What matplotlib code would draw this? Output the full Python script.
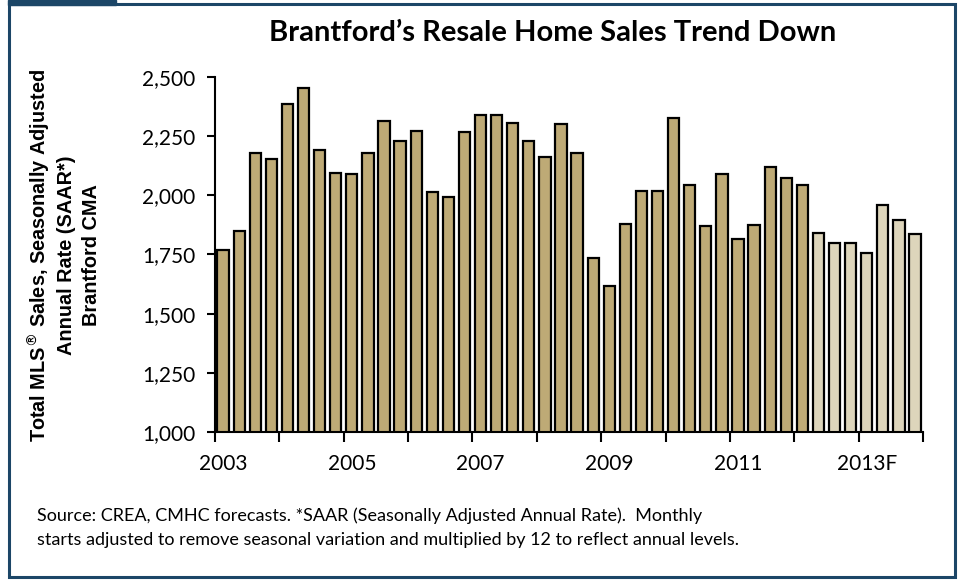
import matplotlib.pyplot as plt
from matplotlib.patches import Rectangle
from matplotlib.ticker import FuncFormatter

# quarterly MLS sales, SAAR, 2003Q1 - 2013Q4
actual = [1768, 1849, 2179, 2153, 2386, 2455, 2192, 2094,
          2090, 2179, 2313, 2228, 2272, 2013, 1992, 2268,
          2341, 2341, 2304, 2228, 2161, 2300, 2179, 1736,
          1616, 1879, 2017, 2017, 2325, 2044, 1870, 2089,
          1815, 1875, 2120, 2072, 2044]
forecast = [1839, 1799, 1799, 1758, 1959, 1896, 1838]
year_labels = ["2003", "2005", "2007", "2009", "2011", "2013F"]
yticks = [1000, 1250, 1500, 1750, 2000, 2250, 2500]

dark = "#BEAA76"
light = "#DDD5BB"
border = "#1C4667"
font = "Lato"

fig = plt.figure(figsize=(9.59, 5.81), dpi=100)
ax = fig.add_axes([0.2242, 0.2565, 0.7383, 0.611])

n_act = len(actual)
ax.bar(range(n_act), actual, width=0.7, color=dark, edgecolor="black", linewidth=1.6, zorder=2)
ax.bar(range(n_act, n_act + len(forecast)), forecast, width=0.7, color=light,
       edgecolor="black", linewidth=1.6, zorder=2)

n = n_act + len(forecast)
ax.set_xlim(-0.5, n - 0.5)
ax.set_ylim(1000, 2500)
ax.set_yticks(yticks)
ax.yaxis.set_major_formatter(FuncFormatter(lambda v, p: f"{int(v):,}"))
ax.set_xticks([i - 0.5 for i in range(0, n + 1, 4)])
ax.set_xticklabels([])
ax.set_xticks([i * 8 for i in range(len(year_labels))], minor=True)
ax.set_xticklabels(year_labels, minor=True)
ax.tick_params(axis="x", which="minor", length=0, pad=16, labelsize=15)
ax.tick_params(axis="x", which="major", length=7, width=1.5, direction="out")
ax.tick_params(axis="y", length=6, width=1.5, direction="out", labelsize=15, pad=8)
for lab in ax.get_xticklabels(minor=True) + ax.get_yticklabels():
    lab.set_fontfamily(font)

for s in ["top", "right"]:
    ax.spines[s].set_visible(False)
ax.spines["left"].set_linewidth(1.5)
ax.spines["bottom"].set_linewidth(1.5)

fig.text(0.5761, 0.943, "Brantford’s Resale Home Sales Trend Down", ha="center", va="center",
         fontsize=21, fontweight="bold", family=font)

fig.text(0.066, 0.5602, "Total MLS$^{®}$ Sales, Seasonally Adjusted\nAnnual Rate (SAAR*)\nBrantford CMA",
         rotation=90, ha="center", va="center", fontsize=14.3, fontweight="bold",
         family="Liberation Sans", linespacing=1.38)

fig.text(0.0386, 0.0912, "Source: CREA, CMHC forecasts. *SAAR (Seasonally Adjusted Annual Rate).  Monthly\n"
         "starts adjusted to remove seasonal variation and multiplied by 12 to reflect annual levels.",
         ha="left", va="center", fontsize=13, family=font, linespacing=1.6)

# frame around the figure
fig.patches.append(Rectangle((9 / 959, 4 / 581), 946 / 959, 573 / 581, transform=fig.transFigure,
                             fill=False, edgecolor=border, linewidth=2.2))
fig.patches.append(Rectangle((8 / 959, 1 - 5 / 581), 108 / 959, 5 / 581, transform=fig.transFigure,
                             color=border))

fig.savefig("out.png", dpi=100)
